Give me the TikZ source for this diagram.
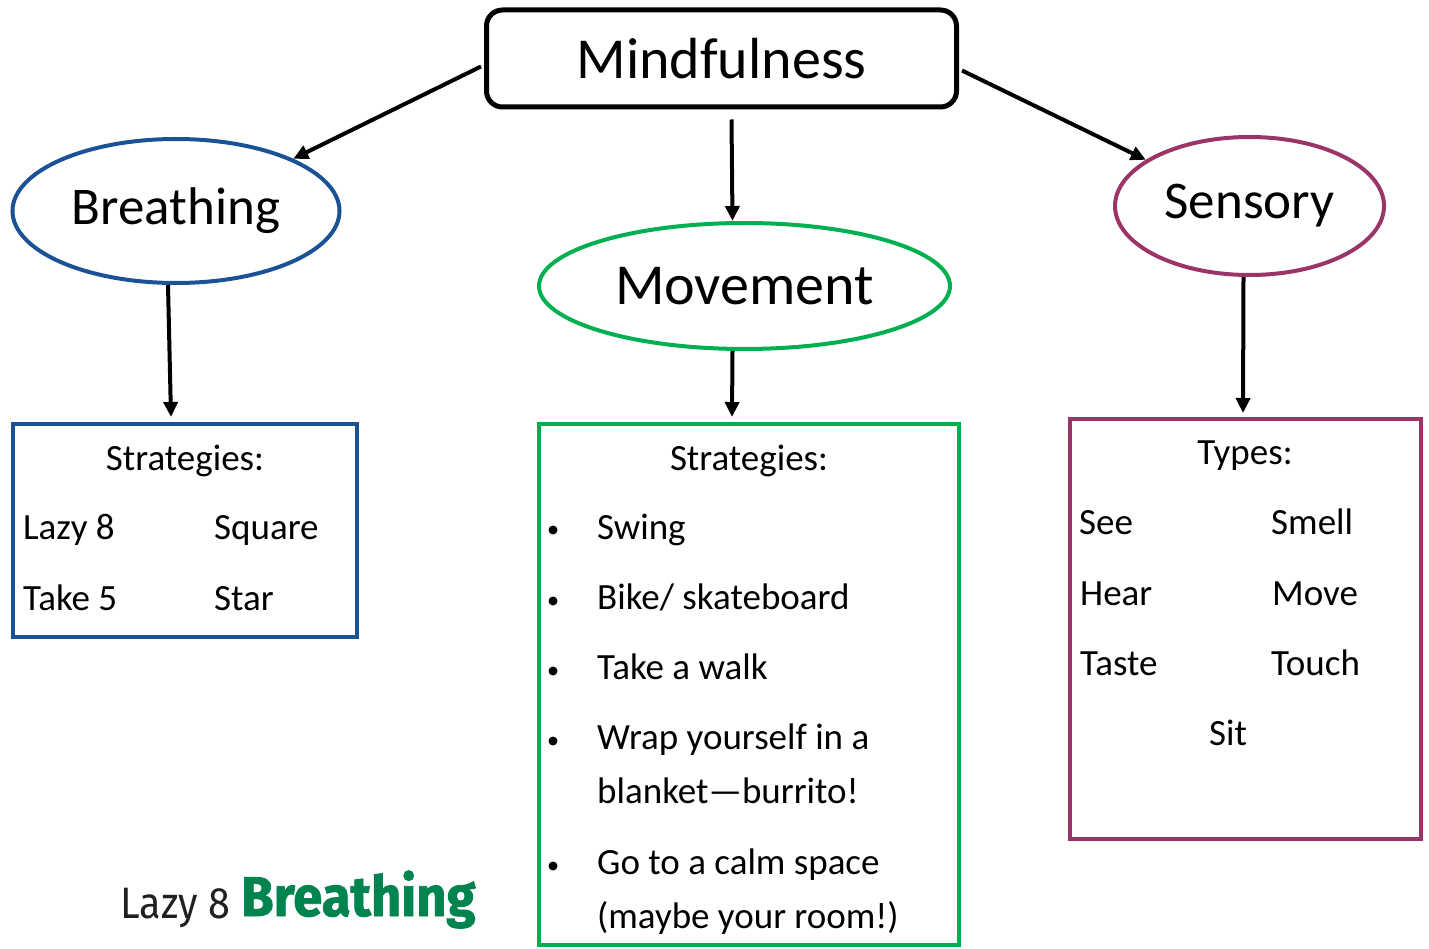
\documentclass[tikz,border=0pt]{standalone}
\usepackage{fontspec}
\setmainfont{Carlito}
\newfontfamily\logofont{Fira Sans}[BoldFeatures={FakeBold=1.5}]
\usetikzlibrary{arrows.meta,shapes.geometric}
\definecolor{bblue}{HTML}{1A5295}
\definecolor{mgreen}{HTML}{00B050}
\definecolor{spurple}{HTML}{9B3567}
\definecolor{logogreen}{HTML}{00844F}
\definecolor{logogray}{HTML}{231F20}
\tikzset{
  conn/.style={line width=4pt,-{Triangle[length=15pt,width=14pt]}},
  oval/.style={ellipse,line width=4pt,inner sep=0pt,font=\fontsize{53}{60}\selectfont},
  panel/.style={line width=4pt,inner sep=0pt},
  item/.style={inner sep=0pt,anchor=base west,font=\fontsize{37}{42}\selectfont},
  head/.style={inner sep=0pt,anchor=base,font=\fontsize{37}{42}\selectfont},
  dot/.style={circle,fill=black,inner sep=0pt,minimum size=9pt}
}
\begin{document}
\begin{tikzpicture}[x=1pt,y=-1pt]
\useasboundingbox (0,0) rectangle (1429,949);
% top box
\node[draw,line width=5pt,rounded corners=16pt,minimum width=470pt,minimum height=97pt,inner sep=0pt,font=\fontsize{58}{64}\selectfont] (mind) at (721.5,58.5) {Mindfulness};
% ellipses
\node[oval,draw=bblue,minimum width=327pt,minimum height=144pt] (breath) at (176,211) {Breathing};
\node[oval,draw=mgreen,minimum width=411pt,minimum height=126pt,font=\fontsize{58}{64}\selectfont] (move) at (744.5,286) {Movement};
\node[oval,draw=spurple,minimum width=269pt,minimum height=138pt] (sens) at (1249.5,206) {Sensory};
% panels
\node[panel,draw=bblue,minimum width=344pt,minimum height=213pt] (bbox) at (185,530.5) {};
\node[panel,draw=mgreen,minimum width=420pt,minimum height=521pt] (gbox) at (749,684.5) {};
\node[panel,draw=spurple,minimum width=351pt,minimum height=420pt] (pbox) at (1245.5,629) {};
% connectors
\draw[conn] ([xshift=-3pt,yshift=-8pt]mind.west) -- (breath.24);
\draw[conn] ([xshift=3pt,yshift=-12pt]mind.east) -- (sens.156);
\draw[conn] ([xshift=10pt,yshift=-10pt]mind.south) -- ([xshift=-12pt]move.north);
\draw[conn] ([xshift=-8pt]breath.south) -- ([xshift=-14pt,yshift=5pt]bbox.north);
\draw[conn] ([xshift=-12pt]move.south) -- ([xshift=-17pt,yshift=5pt]gbox.north);
\draw[conn] ([xshift=-6pt]sens.south) -- ([xshift=-2.5pt,yshift=4pt]pbox.north);
% breathing panel text
\node[head] (bh) at (185,470) {Strategies:};
\node[item] (b1) at (23,539) {Lazy 8};
\node[item] (b2) at (214,539) {Square};
\node[item] (b3) at (23,610) {Take 5};
\node[item] (b4) at (214,610) {Star};
% movement panel text
\node[head] (gh) at (749,470) {Strategies:};
\node[item] (g1) at (597,539) {Swing};
\node[item] (g2) at (597,609) {Bike/ skateboard};
\node[item] (g3) at (597,679) {Take a walk};
\node[item] (g4) at (597,749) {Wrap yourself in a};
\node[item] (g4b) at (597,803) {blanket—burrito!};
\node[item] (g5) at (597,874) {Go to a calm space};
\node[item] (g5b) at (597,928) {(maybe your room!)};
\node[dot] (d1) at (553,530) {};
\node[dot] (d2) at (553,601) {};
\node[dot] (d3) at (553,671) {};
\node[dot] (d4) at (553,741) {};
\node[dot] (d5) at (553,866) {};
% sensory panel text
\node[head] (ph) at (1245,464) {Types:};
\node[item] (p1) at (1079,534) {See};
\node[item] (p2) at (1271,534) {Smell};
\node[item] (p3) at (1080,605) {Hear};
\node[item] (p4) at (1272,605) {Move};
\node[item] (p5) at (1080,675) {Taste};
\node[item] (p6) at (1271,675) {Touch};
\node[item] (p7) at (1209,745) {Sit};
% logo
\node[inner sep=0pt,anchor=base west,text=logogray,font=\logofont\fontsize{44}{50}\selectfont] (l1) at (120,918) {\scalebox{0.9}[1]{Lazy 8}};
\node[inner sep=0pt,anchor=base west,text=logogreen,font=\logofont\bfseries\fontsize{56}{60}\selectfont] (l2) at (241,916) {\scalebox{0.94}[1]{Breathing}};
\end{tikzpicture}
\end{document}
